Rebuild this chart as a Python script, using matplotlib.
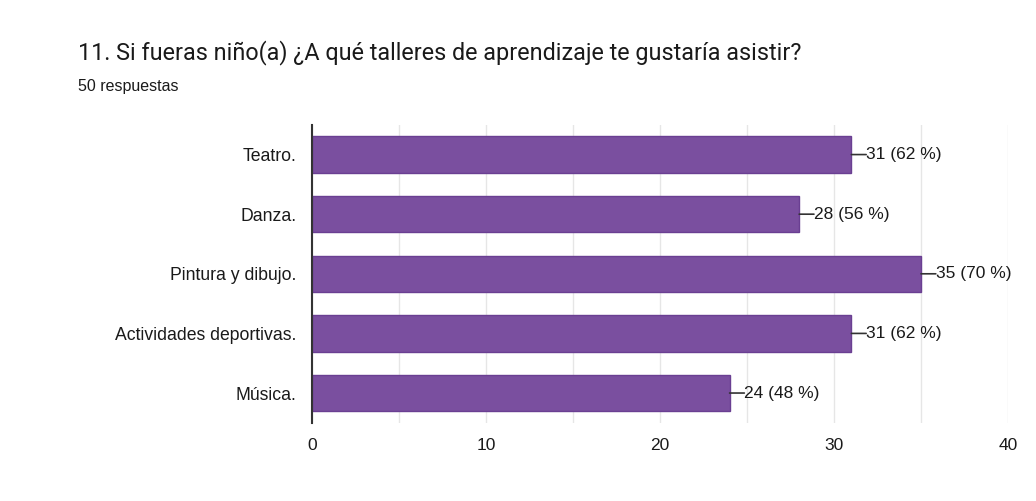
import matplotlib.pyplot as plt
import numpy as np

plt.rcParams['font.family'] = ['Liberation Sans', 'DejaVu Sans']

categories = ["Teatro.", "Danza.", "Pintura y dibujo.", "Actividades deportivas.", "Música."]
counts = [31, 28, 35, 31, 24]
total = 50
xticks = [0, 10, 20, 30, 40]

fig = plt.figure(figsize=(10.36, 5.01), dpi=100)
ax = fig.add_axes([0.301, 0.156, 0.672, 0.595])

y = np.arange(len(categories))
ax.barh(y, counts, height=0.61, color="#7a4f9f", edgecolor="#6a3f92", linewidth=1, zorder=3)

for yi, c in zip(y, counts):
    pct = round(c * 100 / total)
    ax.annotate("", xy=(c, yi), xytext=(c + 0.85, yi),
                arrowprops=dict(arrowstyle="-", color="#333333", lw=1.2,
                                shrinkA=0, shrinkB=0))
    ax.text(c + 0.85, yi, f"{c} ({pct} %)", va="center", ha="left",
            fontsize=12.5, color="#1a1a1a")

ax.set_xlim(0, 40)
ax.set_ylim(len(categories) - 0.5, -0.5)
ax.set_yticks(y)
ax.set_yticklabels(categories, fontsize=12.7, color="#1a1a1a")
ax.set_xticks(xticks)
ax.set_xticklabels([str(t) for t in xticks], fontsize=12.5, color="#1a1a1a")
ax.set_xticks(np.arange(0, 41, 5), minor=True)
ax.grid(axis="x", which="both", color="#e6e6e6", lw=1, zorder=0)
ax.tick_params(axis="both", which="both", length=0)
ax.tick_params(axis="x", pad=11)
ax.tick_params(axis="y", pad=11)

for s in ["top", "right", "bottom"]:
    ax.spines[s].set_visible(False)
ax.spines["left"].set_color("#333333")
ax.spines["left"].set_linewidth(1.5)
ax.spines["left"].set_zorder(4)

fig.text(0.075, 0.895, "11. Si fueras niño(a) ¿A qué talleres de aprendizaje te gustaría asistir?",
         fontsize=16.8, color="#1a1a1a", va="center", family=['Roboto', 'DejaVu Sans'])
fig.text(0.075, 0.828, "50 respuestas", fontsize=11.5, color="#1a1a1a", va="center")

fig.savefig("out.png", dpi=100)
